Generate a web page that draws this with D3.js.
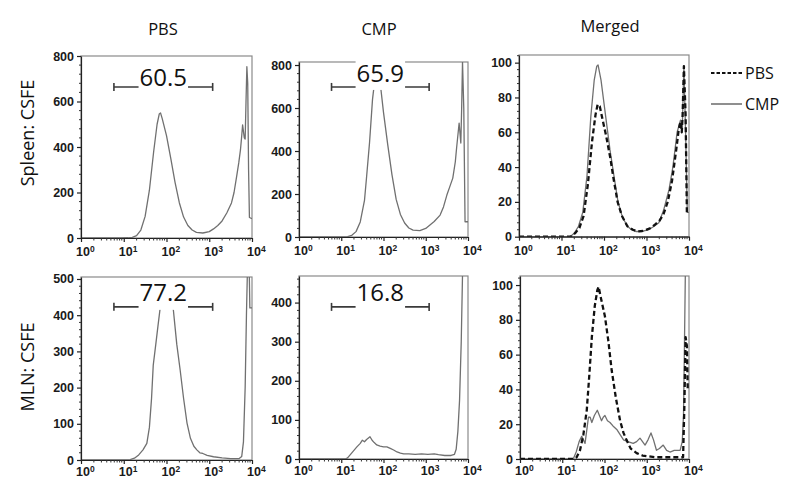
<!DOCTYPE html>
<html><head><meta charset="utf-8">
<script src="https://cdn.jsdelivr.net/npm/d3@7"></script>
<style>
body{margin:0;background:#fff}
svg{display:block;font-family:"Open Sans",sans-serif}
</style></head>
<body><svg id="chart" width="800" height="502"></svg>
<script>
// ---------- data ----------
const columnTitles = ["PBS", "CMP", "Merged"];
const rowLabels = ["Spleen: CSFE", "MLN: CSFE"];
const legendLabels = ["PBS", "CMP"];
const xTickExponents = [0, 1, 2, 3, 4];
const yTicksSpleen = [0, 200, 400, 600, 800];
const yTicksMlnPBS = [0, 100, 200, 300, 400, 500];
const yTicksMlnCMP = [0, 100, 200, 300, 400];
const yTicksPercent = [0, 20, 40, 60, 80, 100];
const gateLabels = ["60.5", "65.9", "77.2", "16.8"];
const gateBounds = [0.77, 3.08];          // log10 fluorescence
const gateLevels = [664, 698, 423, 389];  // counts

// [log10 fluorescence, count]
const spleenPBS = [[0,0],[0.9,0],[1.1,1],[1.2,3],[1.3,10],[1.4,35],[1.5,95],[1.6,210],[1.7,380],[1.78,500],[1.83,545],[1.86,550],[1.9,525],[2.0,450],[2.1,350],[2.2,245],[2.3,155],[2.4,92],[2.5,55],[2.6,35],[2.7,25],[2.85,22],[3.0,28],[3.1,40],[3.2,55],[3.3,75],[3.41,110],[3.52,154],[3.58,200],[3.64,270],[3.69,330],[3.73,387],[3.76,450],[3.78,497],[3.82,440],[3.84,435],[3.86,600],[3.88,753],[3.9,680],[3.92,300],[3.94,90],[4,85]];
const spleenCMP = [[0,0],[1.0,0],[1.15,2],[1.25,8],[1.35,25],[1.45,70],[1.55,170],[1.6,280],[1.67,440],[1.74,640],[1.8,740],[1.86,780],[1.92,720],[2.0,580],[2.1,430],[2.2,290],[2.3,175],[2.4,105],[2.5,65],[2.6,42],[2.7,32],[2.86,30],[3.0,40],[3.1,56],[3.2,72],[3.34,102],[3.42,140],[3.5,195],[3.58,240],[3.64,274],[3.7,350],[3.73,414],[3.79,530],[3.83,437],[3.85,600],[3.87,815],[3.9,600],[3.93,71],[4,71]];
const mergedSpleenCMP = [[0,0],[1.2,0],[1.3,2],[1.4,6],[1.5,14],[1.6,35],[1.69,69],[1.77,90],[1.83,98],[1.86,98.7],[1.93,90],[2.04,69],[2.14,50],[2.24,34],[2.33,20],[2.43,11.5],[2.55,6],[2.65,4],[2.75,3],[2.9,3],[3.05,4],[3.18,6],[3.29,8],[3.4,15],[3.53,27],[3.62,40],[3.72,60],[3.8,67],[3.84,61],[3.88,98],[3.92,60],[3.96,14],[4,14]];
const mergedSpleenPBS = [[0,0],[1.22,0],[1.32,2],[1.42,5],[1.52,12],[1.62,30],[1.72,55],[1.8,70],[1.85,76],[1.9,75],[1.96,68],[2.05,58],[2.15,45],[2.22,34],[2.32,20],[2.42,12],[2.55,6],[2.68,4],[2.8,3],[2.95,3.5],[3.1,5],[3.2,7],[3.3,9],[3.4,13],[3.5,20],[3.6,32],[3.7,50],[3.76,62],[3.8,66],[3.83,60],[3.85,70],[3.88,98],[3.92,70],[3.95,14],[4,14]];
const mlnPBS = [[0,0],[1.0,0],[1.15,1],[1.25,5],[1.35,14],[1.45,28],[1.54,46],[1.6,90],[1.65,170],[1.69,262],[1.75,320],[1.8,370],[1.85,418],[1.9,460],[2.0,475],[2.1,450],[2.16,415],[2.24,320],[2.32,248],[2.4,170],[2.48,102],[2.56,60],[2.64,38],[2.71,28],[2.78,20],[2.85,18],[2.95,13],[3.1,9],[3.3,6],[3.5,4],[3.7,4],[3.76,10],[3.8,50],[3.84,200],[3.87,400],[3.9,560],[3.93,560],[3.95,420],[4,420]];
const mlnCMP = [[0,0],[1.1,0],[1.15,3],[1.22,12],[1.3,22],[1.37,31],[1.45,40],[1.5,48],[1.55,44],[1.6,50],[1.68,57],[1.73,48],[1.78,42],[1.84,36],[1.92,33],[2.0,31],[2.08,31],[2.16,27],[2.24,23],[2.32,18],[2.4,15],[2.48,13],[2.6,13],[2.75,12],[2.9,13],[3.05,12],[3.2,13],[3.3,11],[3.45,9],[3.6,9],[3.68,12],[3.72,25],[3.76,70],[3.8,150],[3.84,300],[3.87,470],[3.92,700],[4,700]];
const mergedMlnPBS = [[0,0],[1.26,0],[1.34,1],[1.42,5],[1.5,14],[1.58,28],[1.64,48],[1.7,70],[1.77,88],[1.83,97],[1.86,99],[1.92,92],[2.01,82],[2.09,68],[2.17,51],[2.27,35],[2.37,22],[2.45,15],[2.52,11],[2.62,6],[2.76,3.4],[2.9,2],[3.2,1],[3.6,1],[3.86,1],[3.89,30],[3.92,70],[3.95,65],[3.97,40],[4,40]];
const mergedMlnCMP = [[0,0],[1.26,0],[1.33,4],[1.4,10],[1.46,13],[1.54,9],[1.62,24],[1.66,24],[1.7,21],[1.76,25],[1.83,28],[1.88,25],[1.93,22],[1.97,24],[2.01,25],[2.07,22],[2.13,21],[2.2,19],[2.29,17],[2.37,14],[2.45,11],[2.55,10],[2.68,9],[2.76,10],[2.84,12],[2.9,10],[2.96,8],[3.03,11],[3.1,15],[3.16,11],[3.23,5],[3.3,6],[3.39,8],[3.47,5],[3.55,4],[3.65,5],[3.79,5],[3.84,10],[3.87,25],[3.9,80],[3.92,120],[4,120]];

// ---------- layout ----------
const panels = [
  {x0:81,  x1:252, top:56,  y0:238, ymax:800,  ticks:yTicksSpleen, series:[{d:spleenPBS, s:"solid"}], gate:0, labOff:1, xlab:17},
  {x0:299, x1:468, top:62,  y0:237, ymax:814,  ticks:yTicksSpleen, series:[{d:spleenCMP, s:"solid"}], gate:1, labOff:5, xlab:17},
  {x0:519, x1:689, top:55,  y0:236.7, ymax:104.4, ticks:yTicksPercent, series:[{d:mergedSpleenCMP, s:"solid"},{d:mergedSpleenPBS, s:"dash"}], gate:null, xlab:17},
  {x0:81,  x1:252, top:277, y0:460, ymax:505.5, ticks:yTicksMlnPBS, series:[{d:mlnPBS, s:"solid"}], gate:2, labOff:6, xlab:15},
  {x0:299, x1:468, top:276, y0:459, ymax:468, ticks:yTicksMlnCMP, series:[{d:mlnCMP, s:"solid"}], gate:3, labOff:6, xlab:15},
  {x0:520, x1:689, top:276, y0:459, ymax:105.2, ticks:yTicksPercent, series:[{d:mergedMlnCMP, s:"solid"},{d:mergedMlnPBS, s:"dash"}], gate:null, xlab:15}
];

const svg = d3.select("#chart");

panels.forEach((p, i) => {
  const x = d3.scaleLog().domain([1, 1e4]).range([p.x0, p.x1]);
  const y = d3.scaleLinear().domain([0, p.ymax]).range([p.y0, p.top]);
  const g = svg.append("g");
  const cid = "clip" + i;
  g.append("clipPath").attr("id", cid).append("rect")
    .attr("x", p.x0).attr("y", p.top).attr("width", p.x1 - p.x0).attr("height", p.y0 - p.top);

  // frame
  g.append("rect").attr("x", p.x0).attr("y", p.top).attr("width", p.x1 - p.x0).attr("height", p.y0 - p.top)
    .attr("fill", "none").attr("stroke", "#8a8a8a").attr("stroke-width", 1.2);

  // curves
  const line = d3.line().x(d => x(Math.pow(10, d[0]))).y(d => y(d[1]));
  p.series.forEach(s => {
    g.append("path").attr("clip-path", `url(#${cid})`).attr("d", line(s.d))
      .attr("fill", "none")
      .attr("stroke", s.s === "dash" ? "#111" : "#707070")
      .attr("stroke-width", s.s === "dash" ? 2.3 : 1.3)
      .attr("stroke-dasharray", s.s === "dash" ? "5,3" : null)
      .attr("stroke-linejoin", "round");
  });

  // gate
  if (p.gate !== null) {
    const gy = y(gateLevels[p.gate]);
    const gx0 = x(Math.pow(10, gateBounds[0])), gx1 = x(Math.pow(10, gateBounds[1]));
    const gg = g.append("g").attr("stroke", "#3a3a3a").attr("stroke-width", 1.6);
    gg.append("line").attr("x1", gx0).attr("x2", gx1).attr("y1", gy).attr("y2", gy);
    gg.append("line").attr("x1", gx0).attr("x2", gx0).attr("y1", gy - 4).attr("y2", gy + 4);
    gg.append("line").attr("x1", gx1).attr("x2", gx1).attr("y1", gy - 4).attr("y2", gy + 4);
    const bg = g.append("rect").attr("fill", "#fff");
    const t = g.append("text").attr("x", (gx0 + gx1) / 2).attr("y", gy - p.labOff)
      .attr("text-anchor", "middle").attr("font-size", 24).attr("fill", "#111")
      .text(gateLabels[p.gate]);
    const bb = t.node().getBBox();
    bg.attr("x", bb.x - 1).attr("y", bb.y + 4).attr("width", bb.width + 2).attr("height", gy + 3 - (bb.y + 4));
  }

  // y axis
  const ya = g.append("g").attr("transform", `translate(${p.x0},0)`)
    .call(d3.axisLeft(y).tickValues(p.ticks).tickSize(4).tickPadding(3).tickSizeOuter(0));
  ya.select(".domain").attr("stroke", "#222").attr("stroke-width", 1.2);
  ya.selectAll(".tick line").attr("stroke", "#222").attr("stroke-width", 1.2);
  ya.selectAll("text").attr("font-size", 12.5).attr("fill", "#1a1a1a").attr("font-weight", 600);
  const step = p.ticks[1] - p.ticks[0];
  const minors = d3.range(0, p.ymax, step / 5).filter(v => v % step !== 0);
  g.append("g").selectAll("line").data(minors).join("line")
    .attr("x1", p.x0 - 2).attr("x2", p.x0).attr("y1", d => y(d)).attr("y2", d => y(d))
    .attr("stroke", "#333").attr("stroke-width", 1);

  // x axis
  const xa = g.append("g").attr("transform", `translate(0,${p.y0})`)
    .call(d3.axisBottom(x).tickValues(xTickExponents.map(e => Math.pow(10, e)))
      .tickSize(4).tickPadding(p.xlab - 12).tickSizeOuter(0));
  xa.select(".domain").attr("stroke", "#222").attr("stroke-width", 1.2);
  xa.selectAll(".tick line").attr("stroke", "#222").attr("stroke-width", 1.2);
  xa.selectAll(".tick text").each(function(d) {
    const t = d3.select(this);
    t.text(null).attr("text-anchor", "start").attr("x", -5.5)
      .attr("font-size", 12.5).attr("fill", "#1a1a1a").attr("font-weight", 600);
    t.append("tspan").text("10");
    t.append("tspan").attr("dy", "-0.42em").attr("font-size", 8.5).text(String(Math.round(Math.log10(d))));
  });
  const xMinors = [];
  for (let e = 0; e < 4; e++) for (let k = 2; k <= 9; k++) xMinors.push(k * Math.pow(10, e));
  g.append("g").selectAll("line").data(xMinors).join("line")
    .attr("x1", d => x(d)).attr("x2", d => x(d)).attr("y1", p.y0).attr("y2", p.y0 + 2.5)
    .attr("stroke", "#333").attr("stroke-width", 1);
});

// column titles
const titlePos = [[163, 35], [379, 35], [610, 32]];
columnTitles.forEach((t, i) => {
  svg.append("text").attr("x", titlePos[i][0]).attr("y", titlePos[i][1])
    .attr("text-anchor", "middle").attr("font-size", 16.5).attr("fill", "#111").text(t);
});

// row labels
const rowPos = [[34, 133], [34, 367]];
rowLabels.forEach((t, i) => {
  svg.append("text").attr("transform", `translate(${rowPos[i][0]},${rowPos[i][1]}) rotate(-90)`)
    .attr("text-anchor", "middle").attr("font-size", 18).attr("fill", "#111").text(t);
});

// legend
const legY = [73, 104];
legendLabels.forEach((t, i) => {
  svg.append("line").attr("x1", 711).attr("x2", 742).attr("y1", legY[i]).attr("y2", legY[i])
    .attr("stroke", i === 0 ? "#111" : "#444").attr("stroke-width", i === 0 ? 1.8 : 1.2)
    .attr("stroke-dasharray", i === 0 ? "3.5,2" : null);
  svg.append("text").attr("x", 745).attr("y", legY[i] + 6).attr("font-size", 16).attr("fill", "#111").text(t);
});
</script>
</body></html>
